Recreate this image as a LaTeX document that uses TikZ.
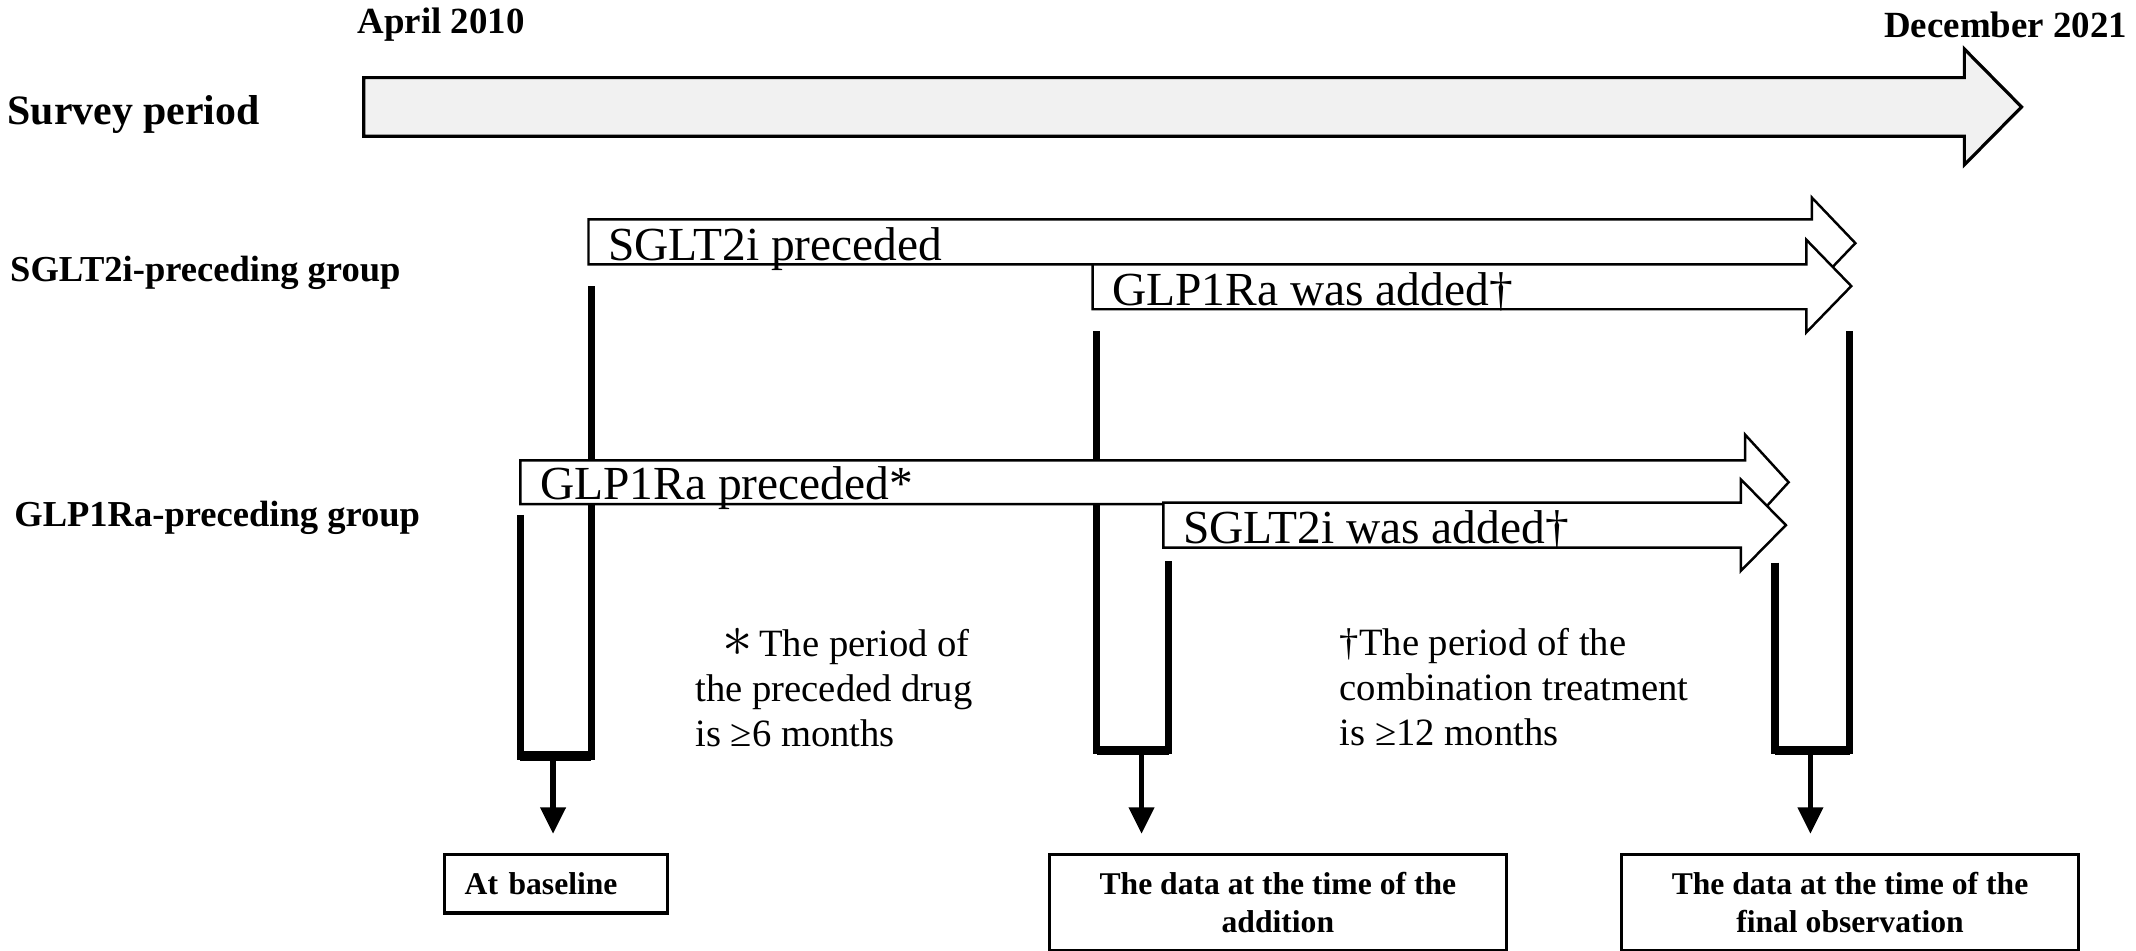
\documentclass[tikz,border=0pt]{standalone}
\usepackage{fontspec}
\setmainfont{Liberation Serif}
\usetikzlibrary{arrows.meta}
\definecolor{surveygray}{RGB}{241,241,241}

\begin{document}
\begin{tikzpicture}[x=0.013622cm,y=-0.013622cm,
	timetext/.style={font=\fontsize{10.5}{12}\selectfont\bfseries,inner sep=0pt},
	grouptext/.style={font=\fontsize{10.4}{12}\selectfont\bfseries,anchor=west,inner sep=0pt},
	drugtext/.style={font=\fontsize{13.5}{16}\selectfont,anchor=base west,inner sep=0pt},
	notetext/.style={font=\fontsize{11}{12.8}\selectfont,align=left,anchor=north west,inner sep=0pt},
	databox/.style={draw,line width=0.9pt,font=\fontsize{9}{10.9}\selectfont\bfseries,align=center,
		minimum width=130.2pt,minimum height=27.5pt,anchor=north west,inner sep=0pt},
	drugarrow/.style={draw,fill=white,line width=0.7pt,line join=miter},
	bracketline/.style={line width=2pt,line join=miter},
	downarrow/.style={line width=1.5pt,-{Triangle[width=7pt,length=7.5pt]},shorten >=5.4pt}]

	\useasboundingbox (0,0) rectangle (1568,698);

	\node[timetext,anchor=west] (start) at (262,18) {April 2010};
	\node[timetext,anchor=east] (end) at (1562,18) {December 2021};
	\node[grouptext,font=\fontsize{11.9}{14}\selectfont\bfseries] (period) at (5,84) {Survey period};
	\node[grouptext] (sgltgrp) at (7,200) {SGLT2i-preceding group};
	\node[grouptext] (glpgrp) at (10,380) {GLP1Ra-preceding group};

	\draw[drugarrow,fill=surveygray,line width=0.9pt] (267,57) -- (1442,57) -- (1442,36) -- (1484,78.5)
		-- (1442,121) -- (1442,100) -- (267,100) -- cycle;

	\foreach \xl/\yl/\xr/\yr/\yb in {382/378/434/210/555, 805/243/858/412/551, 1303/413/1358/243/551}{
		\draw[bracketline] (\xl,\yl) |- (\xr,\yb) -- (\xr,\yr);
		\draw[bracketline,line width=2.6pt] (\xl,\yb) -- (\xr,\yb);
	}

	\foreach \xa/\yt/\yb/\xh/\xt/\hu/\hd/\nm/\lbl in {
		432/161/194/1330/1362/145/212/sgltpre/SGLT2i preceded,
		802/194/227/1326/1359/176/244/glpadd/GLP1Ra was added†,
		382/338/370/1281/1313/319/389/glppre/GLP1Ra preceded*,
		854/369/402/1278/1311/352/419/sgltadd/SGLT2i was added†}{
		\draw[drugarrow] (\xa,\yt) -- (\xh,\yt) -- (\xh,\hu) -- (\xt,{(\hu+\hd)/2}) -- (\xh,\hd)
			-- (\xh,\yb) -- (\xa,\yb) -- cycle;
		\node[drugtext] (\nm) at ({\xa+14},{\yb-3}) {\lbl};
	}

	\node[notetext] (prenote) at (510,461) {\hspace*{0.7em}{\fontsize{17}{12}\selectfont$\ast$}\,The period of\\the preceded drug\\is ≥6 months};
	\node[notetext] (addnote) at (983,461) {†The period of the\\combination treatment\\is ≥12 months};

	\node[databox,minimum width=63.6pt,minimum height=16.7pt,text width=52pt,inner xsep=5.8pt,align=left]
		(base) at (325,626) {At baseline};
	\node[databox] (addition) at (769,626) {The data at the time of the\\addition};
	\node[databox] (final) at (1189,626) {The data at the time of the\\final observation};

	\coordinate (k1) at (406,555);
	\coordinate (k2) at (838,551);
	\coordinate (k3) at (1329,551);
	\draw[downarrow] (k1) -- (k1 |- base.north);
	\draw[downarrow] (k2) -- (k2 |- addition.north);
	\draw[downarrow] (k3) -- (k3 |- final.north);
\end{tikzpicture}
\end{document}
